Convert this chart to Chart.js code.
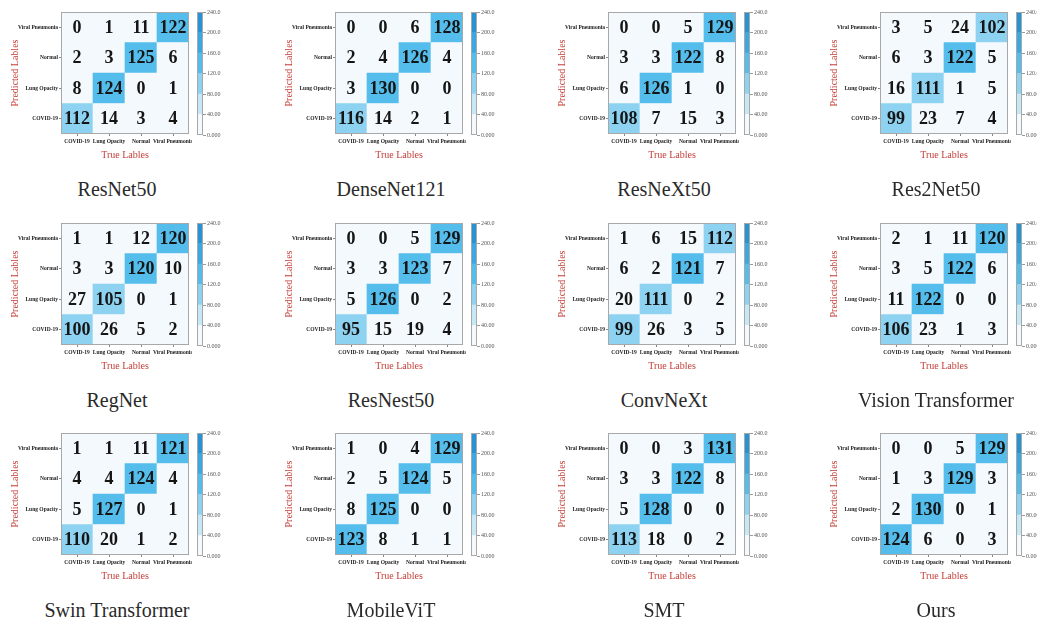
<!DOCTYPE html>
<html><head><meta charset="utf-8">
<script src="https://cdn.jsdelivr.net/npm/chart.js@4"></script>
<style>
html,body{margin:0;padding:0;background:#fff;}
#wrap{position:relative;width:1037px;height:623px;overflow:hidden;background:#fff;}
.panel{position:absolute;width:273px;height:210px;}
.panel canvas{position:absolute;}
.title{position:absolute;left:0;width:234px;top:176px;text-align:center;font:20px "Liberation Serif",serif;color:#2a2a2a;line-height:26px;white-space:nowrap;}
</style></head>
<body><div id="wrap"></div>
<script>
// ---- data ----
const trueLabels = ['COVID-19', 'Lung Opacity', 'Normal', 'Viral Pneumonia'];
const predLabels = ['COVID-19', 'Lung Opacity', 'Normal', 'Viral Pneumonia'];
const xTitle = 'True Lables';
const yTitle = 'Predicted Lables';
const modelNames = ['ResNet50', 'DenseNet121', 'ResNeXt50', 'Res2Net50',
  'RegNet', 'ResNest50', 'ConvNeXt', 'Vision Transformer',
  'Swin Transformer', 'MobileViT', 'SMT', 'Ours'];
// rows: predicted COVID-19, Lung Opacity, Normal, Viral Pneumonia; columns: true labels
const resnet50    = [[112,14,3,4],[8,124,0,1],[2,3,125,6],[0,1,11,122]];
const densenet121 = [[116,14,2,1],[3,130,0,0],[2,4,126,4],[0,0,6,128]];
const resnext50   = [[108,7,15,3],[6,126,1,0],[3,3,122,8],[0,0,5,129]];
const res2net50   = [[99,23,7,4],[16,111,1,5],[6,3,122,5],[3,5,24,102]];
const regnet      = [[100,26,5,2],[27,105,0,1],[3,3,120,10],[1,1,12,120]];
const resnest50   = [[95,15,19,4],[5,126,0,2],[3,3,123,7],[0,0,5,129]];
const convnext    = [[99,26,3,5],[20,111,0,2],[6,2,121,7],[1,6,15,112]];
const vit         = [[106,23,1,3],[11,122,0,0],[3,5,122,6],[2,1,11,120]];
const swin        = [[110,20,1,2],[5,127,0,1],[4,4,124,4],[1,1,11,121]];
const mobilevit   = [[123,8,1,1],[8,125,0,0],[2,5,124,5],[1,0,4,129]];
const smt         = [[113,18,0,2],[5,128,0,0],[3,3,122,8],[0,0,3,131]];
const ours        = [[124,6,0,3],[2,130,0,1],[1,3,129,3],[0,0,5,129]];
const matrices = [resnet50, densenet121, resnext50, res2net50, regnet, resnest50,
  convnext, vit, swin, mobilevit, smt, ours];
const bandEdges = [0, 40, 80, 120, 160, 200, 240];
const colorbarTicks = ['0.000', '40.00', '80.00', '120.0', '160.0', '200.0', '240.0'];

// ---- styles ----
const SERIF = '"Liberation Serif", "Times New Roman", serif';
const RED = '#c4403a';
const bandColors = ['#f3f9fd', '#c6e7f6', '#8ed2f1', '#55bdeb', '#3aa8e1', '#2893d4'];
const colX = [0, 274, 547, 819];
const rowY = [0, 211, 421];

function colorFor(v) {
  for (let i = 0; i < bandColors.length; i++) {
    if (v < bandEdges[i + 1]) return bandColors[i];
  }
  return bandColors[bandColors.length - 1];
}

const frame = {
  id: 'frame',
  afterDatasetsDraw(chart) {
    const a = chart.chartArea, ctx = chart.ctx;
    ctx.save();
    ctx.strokeStyle = '#a8a8a8';
    ctx.lineWidth = 1;
    ctx.strokeRect(Math.round(a.left) + 0.5, Math.round(a.top) + 0.5,
      Math.round(a.right - a.left) - 1, Math.round(a.bottom - a.top) - 1);
    ctx.restore();
  }
};

const cellText = {
  id: 'cellText',
  afterDatasetsDraw(chart) {
    const ctx = chart.ctx;
    ctx.save();
    ctx.font = 'bold 18px ' + SERIF;
    ctx.fillStyle = '#151515';
    ctx.textAlign = 'center';
    ctx.textBaseline = 'middle';
    chart.data.datasets.forEach((ds, i) => {
      chart.getDatasetMeta(i).data.forEach((el, j) => {
        ctx.fillText(String(ds.values[j]), el.x, (el.y + el.base) / 2 + 1);
      });
    });
    ctx.restore();
  }
};

function makeMatrix(canvas, matrix) {
  const datasets = predLabels.map((p, r) => ({
    label: p,
    data: trueLabels.map(() => [r, r + 1]),
    values: matrix[r],
    backgroundColor: matrix[r].map(colorFor),
    borderWidth: 0,
    barPercentage: 1,
    categoryPercentage: 1,
    grouped: false
  }));
  const tickFont = {family: SERIF, size: 5.5, weight: 'bold'};
  new Chart(canvas, {
    type: 'bar',
    data: {labels: trueLabels, datasets},
    options: {
      responsive: false, animation: false, devicePixelRatio: 1,
      layout: {padding: {top: 12, right: 3, bottom: 3, left: 0}},
      plugins: {legend: {display: false}, tooltip: {enabled: false}},
      scales: {
        x: {
          type: 'category', offset: true,
          grid: {display: true, offset: false, drawOnChartArea: false, tickLength: 2, color: '#888'},
          border: {display: false},
          ticks: {font: tickFont, color: '#222', maxRotation: 0, minRotation: 0, autoSkip: false, padding: 2},
          title: {display: true, text: xTitle, color: RED, font: {family: SERIF, size: 10}, padding: {top: 0, bottom: 1}},
          afterFit(s) { s.height = 28; s.paddingLeft = 0; s.paddingRight = 0; }
        },
        y: {
          type: 'linear', min: 0, max: 4,
          grid: {display: true, drawOnChartArea: false, tickLength: 2, color: '#888'},
          border: {display: false},
          afterBuildTicks(s) { s.ticks = [0.5, 1.5, 2.5, 3.5].map(v => ({value: v})); },
          ticks: {callback: (v) => predLabels[Math.floor(v)], font: tickFont, color: '#222', padding: 1},
          title: {display: true, text: yTitle, color: RED, font: {family: SERIF, size: 10}, padding: {top: 9, bottom: 0}},
          afterFit(s) { s.width = 61; s.paddingTop = 0; s.paddingBottom = 0; }
        }
      }
    },
    plugins: [frame, cellText]
  });
}

function makeColorbar(canvas) {
  new Chart(canvas, {
    type: 'bar',
    data: {
      labels: [''],
      datasets: bandColors.map((c, i) => ({
        data: [bandEdges[i + 1] - bandEdges[i]],
        backgroundColor: c, borderWidth: 0, barPercentage: 1, categoryPercentage: 1
      }))
    },
    options: {
      responsive: false, animation: false, devicePixelRatio: 1,
      layout: {padding: {left: 8, top: 12, bottom: 15, right: 0}},
      plugins: {legend: {display: false}, tooltip: {enabled: false}},
      scales: {
        x: {display: false, stacked: true},
        y: {
          stacked: true, position: 'right', min: 0, max: 240,
          afterBuildTicks(s) { s.ticks = bandEdges.map(v => ({value: v})); },
          ticks: {callback: (v, i) => colorbarTicks[i], font: {family: SERIF, size: 6}, color: '#555', padding: 1},
          grid: {drawOnChartArea: false, tickLength: 3, color: '#999'},
          border: {display: false},
          afterFit(s) { s.width = 36; s.paddingTop = 0; s.paddingBottom = 0; }
        }
      }
    },
    plugins: [frame]
  });
}

const wrap = document.getElementById('wrap');
modelNames.forEach((name, k) => {
  const panel = document.createElement('div');
  panel.className = 'panel';
  panel.style.left = colX[k % 4] + 'px';
  panel.style.top = rowY[Math.floor(k / 4)] + 'px';
  wrap.appendChild(panel);

  const c1 = document.createElement('canvas');
  c1.width = 192; c1.height = 165;
  c1.style.left = '0px'; c1.style.top = '0px';
  c1.style.width = '192px'; c1.style.height = '165px';
  panel.appendChild(c1);

  const c2 = document.createElement('canvas');
  c2.width = 50; c2.height = 150;
  c2.style.left = '189px'; c2.style.top = '0px';
  c2.style.width = '50px'; c2.style.height = '150px';
  panel.appendChild(c2);

  const t = document.createElement('div');
  t.className = 'title';
  t.textContent = name;
  panel.appendChild(t);

  makeMatrix(c1, matrices[k]);
  makeColorbar(c2);
});
</script>
</body></html>
